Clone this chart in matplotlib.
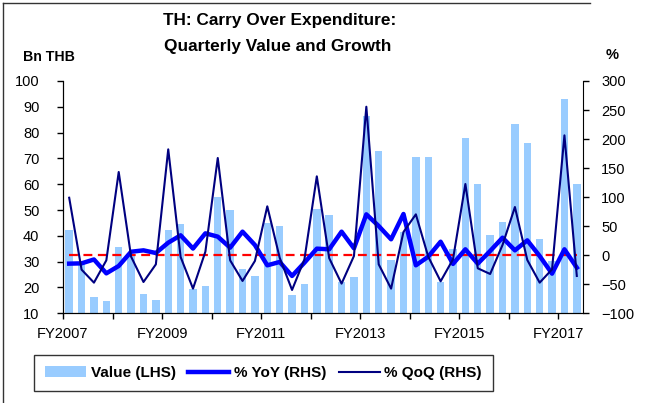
import numpy as np
import matplotlib
matplotlib.use("Agg")
import matplotlib.pyplot as plt
from matplotlib.lines import Line2D

plt.rcParams['font.family'] = ['Liberation Sans', 'DejaVu Sans']

# quarterly data FY2007Q1 .. FY2017Q2
value = [42.3, 30, 16.2, 14.7, 35.5, 33, 17.5, 15, 42.2, 44.5,
         19.4, 20.7, 55.1, 49.9, 27.2, 24.6, 45.1, 43.9, 17.1, 21.5,
         50.6, 48.1, 22, 24.2, 86.5, 72.9, 30.8, 41.4, 70.5, 70.6,
         22, 34.8, 77.8, 60, 40.2, 45.5, 83.4, 75.9, 38.9, 30.4,
         93.2, 60]
yoy = [-14.5, -14, -7.3, -31.2, -18.5, 6, 8.4, 3.8, 21.6, 34.3,
       11.5, 37.7, 32, 13, 40.6, 17.6, -17.4, -11.6, -35.7, -12.8,
       11.3, 10.2, 40.6, 11.9, 70.4, 50.3, 27.4, 71, -17.4, -2.5,
       23.3, -15, 10.2, -14.5, 7.3, 30.2, 8.4, 25.6, -1.4, -31.7,
       10.2, -21.4]
qoq = [99, -24.8, -47.2, -8.8, 143.3, -2.5, -46.1, -15.7, 182.3, -3,
       -57.5, 6.1, 167.4, -8.8, -44.3, -9.9, 84.2, -4.2, -59.8, -7,
       135.8, -5, -48.9, -1.3, 255.7, -15.7, -57.5, 40, 70.4, -2.5,
       -44.9, -7, 122.6, -22.5, -32.3, 17.6, 83, -8.2, -47.2, -24.3,
       206.4, -35.7]
year_labels = ["FY2007", "FY2009", "FY2011", "FY2013", "FY2015", "FY2017"]

x = np.arange(len(value))

fig = plt.figure(figsize=(6.48, 4.03), dpi=100)
ax = fig.add_axes([63/648, 1-313.3/403, 520/648, 232.3/403])
ax2 = ax.twinx()

ax.bar(x, value, width=0.6, color="#99CCFF", label="Value (LHS)", zorder=2)
ax2.plot(x, np.zeros(len(x)), color="red", lw=1.6, dashes=(4, 2.5), zorder=3)
l1, = ax2.plot(x, yoy, color="#0000FF", lw=3.2, label="% YoY (RHS)", zorder=4)
l2, = ax2.plot(x, qoq, color="#000080", lw=1.5, label="% QoQ (RHS)", zorder=5)

ax.set_xlim(-0.5, len(x) - 0.5)
ax.set_ylim(10, 100)
ax.set_yticks(range(10, 101, 10))
ax2.set_ylim(-100, 300)
ax2.set_yticks(range(-100, 301, 50))

ticks = np.arange(-0.5, len(x), 4)
ax.set_xticks(ticks)
labs = []
for i in range(len(ticks)):
    labs.append(year_labels[i // 2] if i % 2 == 0 else "")
ax.set_xticklabels(labs)

for a in (ax, ax2):
    a.spines["top"].set_visible(False)
    a.tick_params(labelsize=10.5, length=4, width=1, direction="out")
ax.spines["right"].set_visible(False)
ax.tick_params(axis="y", pad=13)
ax.tick_params(axis="x", pad=6)
ax2.tick_params(axis="y", pad=9)

fig.text(280/648, 1-20/403, "TH: Carry Over Expenditure:", ha="center", va="center",
         fontsize=12.4, fontweight="bold")
fig.text(278/648, 1-46/403, "Quarterly Value and Growth", ha="center", va="center",
         fontsize=12.4, fontweight="bold")
fig.text(48.5/648, 1-57/403, "Bn THB", ha="center", va="center", fontsize=10.2, fontweight="bold")
fig.text(612/648, 1-55/403, "%", ha="center", va="center", fontsize=10.5, fontweight="bold")

h, l = ax.get_legend_handles_labels()
leg = fig.legend(h + [l1, l2], l + [l1.get_label(), l2.get_label()],
                 loc="center", bbox_to_anchor=((37+490)/2/648, 1-373/403), ncol=3,
                 prop={"weight": "bold", "size": 11}, frameon=True, fancybox=False,
                 edgecolor="black", handlelength=2.7, columnspacing=0.8,
                 handletextpad=0.3, borderpad=0.7)
leg.get_frame().set_linewidth(1)

# outer frame
fig.add_artist(Line2D([3/648, 3/648], [0, 1-3/403], color="#333333", lw=1))
fig.add_artist(Line2D([3/648, 590/648], [1-3/403, 1-3/403], color="#333333", lw=1))

fig.savefig("out.png", dpi=100)
